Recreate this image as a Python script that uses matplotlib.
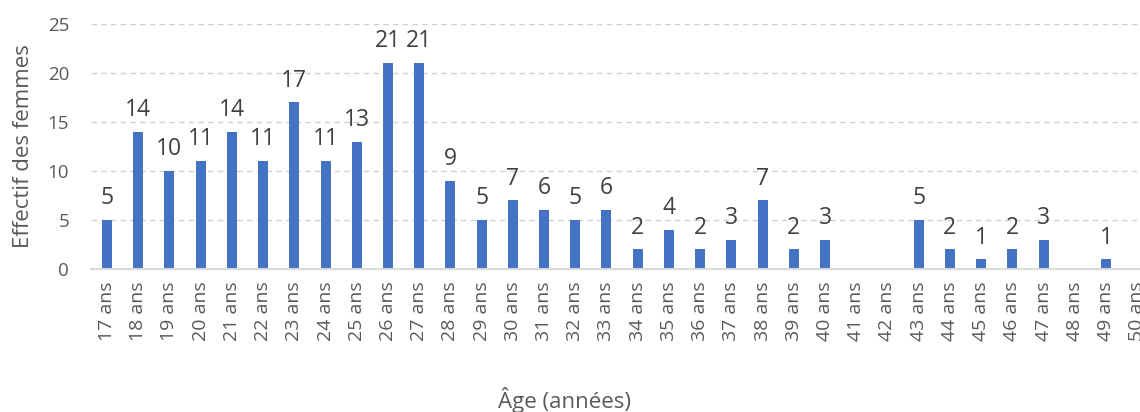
import matplotlib
matplotlib.use("Agg")
import matplotlib.pyplot as plt
import numpy as np

ages = [f"{a} ans" for a in range(17, 51)]
effectifs = [5, 14, 10, 11, 14, 11, 17, 11, 13, 21, 21, 9, 5, 7, 6, 5, 6, 2, 4, 2,
             3, 7, 2, 3, 0, 0, 5, 2, 1, 2, 3, 0, 1, 0]

plt.rcParams['font.family'] = ['Open Sans', 'DejaVu Sans']
text_color = "#595959"
bar_color = "#4472C4"

fig = plt.figure(figsize=(11.4, 4.12), dpi=100)
# the original chart is cropped on the right, so the axes run past the figure edge
ax = fig.add_axes([0.0802, 0.347, 0.931, 0.595])

x = np.arange(len(ages))
ax.bar(x, effectifs, width=0.32, color=bar_color, zorder=3)

for xi, v in zip(x, effectifs):
    if v > 0:
        ax.annotate(str(v), (xi, v), xytext=(0, 7), textcoords="offset points",
                    ha="center", va="bottom", fontsize=16.5, color="#404040")

ax.set_xlim(-0.5, len(ages) - 0.5)
ax.set_ylim(0, 25)
ax.set_yticks(range(0, 26, 5))
ax.set_xticks(x)
ax.set_xticklabels(ages, rotation=90, fontsize=14, color=text_color)
ax.tick_params(axis="y", labelsize=13.5, colors=text_color, length=0, pad=16)
ax.tick_params(axis="x", length=0, pad=9)

ax.yaxis.grid(True, linestyle=(0, (4, 3)), color="#D0D0D0", linewidth=1, zorder=0)
for s in ["top", "right", "left"]:
    ax.spines[s].set_visible(False)
ax.spines["bottom"].set_color("#D9D9D9")
ax.spines["bottom"].set_linewidth(1.5)
ax.spines["bottom"].set_zorder(4)

ax.set_ylabel("Effectif des femmes", fontsize=16, color=text_color)
ax.yaxis.set_label_coords(-0.054, 0.5)
fig.text(0.495, 0.03, "Âge (années)", ha="center", va="center", fontsize=16, color=text_color)

fig.savefig("out.png", dpi=100)
